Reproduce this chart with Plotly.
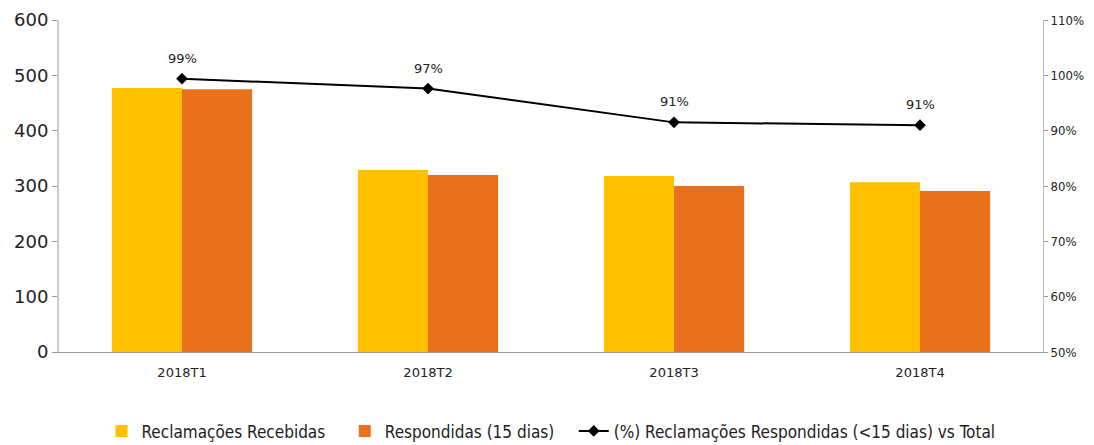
import plotly.graph_objects as go

trimestres = ["2018T1", "2018T2", "2018T3", "2018T4"]
recebidas = [477, 329, 318, 307]
respondidas = [475, 320, 300, 291]
pct_respondidas = [99.4, 97.6, 91.5, 91.0]
pct_labels = ["99%", "97%", "91%", "91%"]

fig = go.Figure()

fig.add_trace(go.Bar(
    x=trimestres, y=recebidas, name="Reclamações Recebidas   ",
    marker=dict(color="#FFC000", line=dict(width=0)),
))
fig.add_trace(go.Bar(
    x=trimestres, y=respondidas, name="Respondidas (15 dias)   ",
    marker=dict(color="#EA711C", line=dict(width=0)),
))
fig.add_trace(go.Scatter(
    x=trimestres, y=pct_respondidas, yaxis="y2",
    name="(%) Reclamações Respondidas (<15 dias) vs Total",
    mode="lines+markers",
    line=dict(color="black", width=2),
    marker=dict(symbol="diamond", size=9, color="black"),
))

# rótulos de percentagem acima dos pontos
for x, y, t in zip(trimestres, pct_respondidas, pct_labels):
    fig.add_annotation(x=x, y=y, yref="y2", text=t, showarrow=False,
                       yanchor="bottom", yshift=11,
                       font=dict(size=13, color="#222", family="DejaVu Sans"))

fig.update_layout(
    width=1094, height=445,
    margin=dict(l=59, r=51, t=20, b=93, autoexpand=False),
    plot_bgcolor="white", paper_bgcolor="white",
    barmode="group", bargap=0.43, bargroupgap=0,
    font=dict(family="DejaVu Sans", color="#222"),
    xaxis=dict(
        showline=True, linecolor="#999", linewidth=1,
        tickfont=dict(size=13), ticks="", automargin=False,
        ticklabelstandoff=8,
    ),
    yaxis=dict(
        range=[0, 600], dtick=100, showgrid=False, zeroline=False,
        showline=True, linecolor="#ccc", linewidth=2,
        ticks="outside", ticklen=5, tickcolor="#999",
        tickfont=dict(size=18), automargin=False,
    ),
    yaxis2=dict(
        overlaying="y", side="right", range=[50, 110], dtick=10,
        ticksuffix="%", showgrid=False, zeroline=False,
        showline=True, linecolor="#bbb", linewidth=1,
        ticks="outside", ticklen=4, tickcolor="#999",
        tickfont=dict(size=13, family="DejaVu Sans Condensed"),
        automargin=False,
    ),
    legend=dict(
        orientation="h", x=0.5, xanchor="center", y=-0.185, yanchor="top",
        font=dict(size=17, family="Liberation Sans Narrow, DejaVu Sans Condensed"),
        traceorder="normal", itemwidth=30,
    ),
)

fig.write_html("out.html", config={"displayModeBar": False},
               post_script="document.body.style.margin='0';")
